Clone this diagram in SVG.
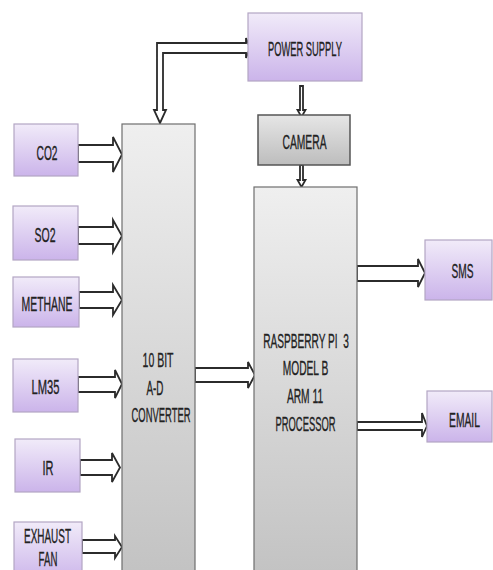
<svg xmlns="http://www.w3.org/2000/svg" width="493" height="570" viewBox="0 0 493 570">
<defs>
<linearGradient id="gp" x1="0" y1="0" x2="0" y2="1">
<stop offset="0" stop-color="#f1ebf9"/>
<stop offset="1" stop-color="#cbb4ea"/>
</linearGradient>
<linearGradient id="gg" x1="0" y1="0" x2="0" y2="1">
<stop offset="0" stop-color="#efefef"/>
<stop offset="1" stop-color="#c2c2c2"/>
</linearGradient>
<linearGradient id="gc" x1="0" y1="0" x2="0" y2="1">
<stop offset="0" stop-color="#e6e6e6"/>
<stop offset="1" stop-color="#bdbdbd"/>
</linearGradient>
<style>
.p{fill:url(#gp);stroke:#b3a6c4;stroke-width:1.2}
.g{fill:url(#gg);stroke:#6e6e6e;stroke-width:1.2}
.c{fill:url(#gc);stroke:#555;stroke-width:1.5}
.a{fill:#fff;stroke:#2b2b2b;stroke-width:1.8;stroke-linejoin:miter}
text{font-family:"Liberation Sans",Arial,sans-serif;font-size:21px;fill:#222;stroke:#222;stroke-width:0.35;text-anchor:middle}
</style>
</defs>
<rect width="493" height="570" fill="#fff"/>
<g id="connectors">
<polygon class="a" points="157,43 246,43 246,38 250,48 246,58 246,53 163,53 163,110 166,110 160,123 154,110 157,110"/>
<polygon class="a" points="78,145 113,145 113,137 122,154.5 113,172 113,162 78,162"/>
<polygon class="a" points="78,227 113,227 113,220 122,236 113,252 113,244 78,244"/>
<polygon class="a" points="79,292 113,292 113,285 122,300 113,315 113,308 79,308"/>
<polygon class="a" points="78,377 115,377 115,370 122,384 115,398 115,392 78,392"/>
<polygon class="a" points="80,460 112,460 112,453 120,467.5 112,482 112,475 80,475"/>
<polygon class="a" points="82,540 115,540 115,536 122,547 115,558 115,553 82,553"/>
<polygon class="a" points="195,368 248,368 248,362 255,375 248,388 248,382 195,382"/>
<polygon class="a" points="357,266 418,266 418,259 425,273 418,287 418,281 357,281"/>
<polygon class="a" points="357,422 422,422 422,413 427,426 422,437 422,430 357,430"/>
<polygon class="a" points="300,86 303,86 303,110 305.5,110 301.5,117 297.5,110 300,110"/>
<polygon class="a" points="300,165 303,165 303,180 305.5,180 301.5,187 297.5,180 300,180"/>
</g>
<g id="power-supply"><rect class="p" x="248" y="13" width="114" height="68"/><text transform="translate(305,56) scale(0.446,1)">POWER SUPPLY</text></g>
<g id="co2"><rect class="p" x="14" y="124" width="64" height="52"/><text transform="translate(47,160) scale(0.486,1)">CO2</text></g>
<g id="so2"><rect class="p" x="13" y="206" width="65" height="54"/><text transform="translate(45,242) scale(0.5,1)">SO2</text></g>
<g id="methane"><rect class="p" x="13" y="277" width="66" height="50"/><text transform="translate(47,311) scale(0.497,1)">METHANE</text></g>
<g id="lm35"><rect class="p" x="13" y="359" width="65" height="53"/><text transform="translate(45.5,394) scale(0.533,1)">LM35</text></g>
<g id="ir"><rect class="p" x="15" y="439" width="65" height="53"/><text transform="translate(48,475) scale(0.524,1)">IR</text></g>
<g id="exhaust-fan"><rect class="p" x="14" y="522" width="68" height="60"/><text transform="translate(47.5,543) scale(0.474,1)">EXHAUST</text><text transform="translate(48,566) scale(0.46,1)">FAN</text></g>
<g id="adc"><rect class="g" x="122" y="124" width="73" height="456"/><text transform="translate(158,367) scale(0.5,1)">10 BIT</text><text transform="translate(155,395) scale(0.47,1)">A-D</text><text transform="translate(161,422) scale(0.448,1)">CONVERTER</text></g>
<g id="camera"><rect class="c" x="258" y="115" width="92" height="50"/><text transform="translate(304.5,149) scale(0.49,1)">CAMERA</text></g>
<g id="raspberry-pi"><rect class="g" x="254" y="187" width="103" height="393"/><text xml:space="preserve" transform="translate(306,348) scale(0.482,1)">RASPBERRY PI  3</text><text transform="translate(305.5,375) scale(0.487,1)">MODEL B</text><text transform="translate(305,403) scale(0.488,1)">ARM 11</text><text transform="translate(305.5,431) scale(0.447,1)">PROCESSOR</text></g>
<g id="sms"><rect class="p" x="425" y="240" width="67" height="60"/><text transform="translate(462.5,278) scale(0.483,1)">SMS</text></g>
<g id="email"><rect class="p" x="427" y="391" width="65" height="51"/><text transform="translate(464.5,427) scale(0.492,1)">EMAIL</text></g>
</svg>
